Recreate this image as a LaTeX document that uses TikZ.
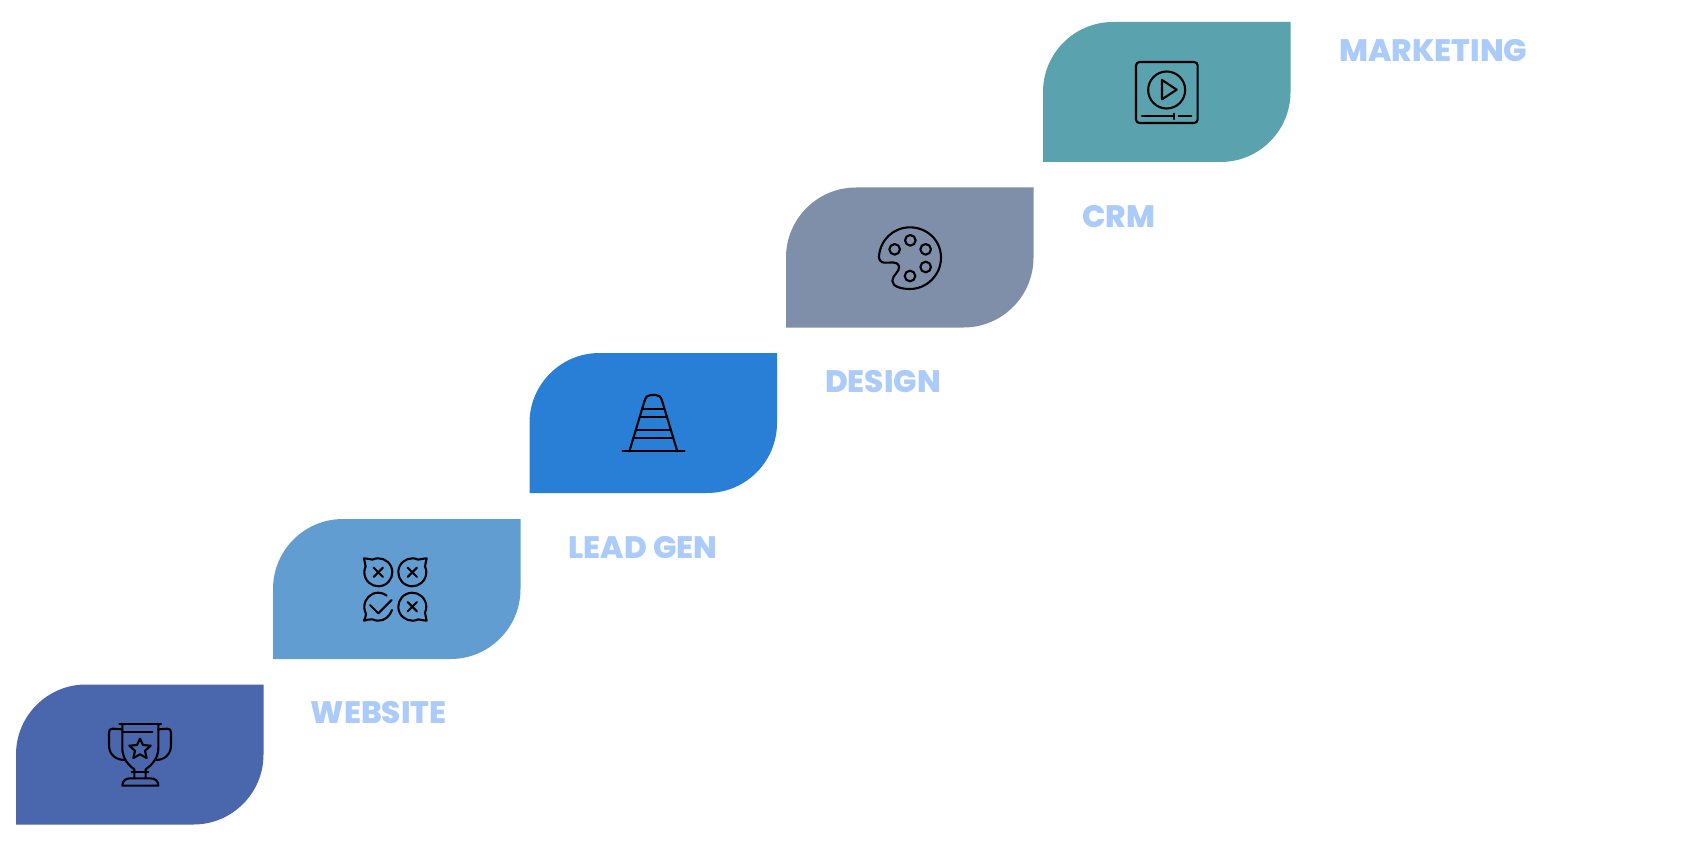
\documentclass[tikz,border=0pt]{standalone}
\usepackage{fontspec}
\setmainfont{Poppins}[BoldFont={Poppins ExtraBold}]
\definecolor{leafA}{HTML}{4A66AC}
\definecolor{leafB}{HTML}{629DD1}
\definecolor{leafC}{HTML}{297FD5}
\definecolor{leafD}{HTML}{7F8FA9}
\definecolor{leafE}{HTML}{5AA2AE}
\definecolor{caption}{HTML}{ABCBFA}
\tikzset{
  leaf/.pic={
    \fill[pic actions] (0,140) -- (0,70) arc[start angle=180,end angle=90,radius=70pt]
      -- (247.5,0) -- (247.5,70) arc[start angle=0,end angle=-90,radius=70pt] -- cycle;
  },
  caption label/.style={text=caption,font=\bfseries\fontsize{31}{31}\selectfont,inner sep=0pt,anchor=center},
  glyph/.style={draw=black,line width=2.1pt,line cap=round,line join=round},
  % icon interiors are plotted on a 3:1 grid
  grid/.style={x=0.33333pt,y=-0.33333pt},
  % speech bubble with its tail at the upper left; mirrored with xscale/yscale
  bubble/.pic={
    \draw[glyph,x=1pt,y=1pt] (-5.9,12.7) arc[start angle=115,end angle=-205,radius=14pt]
      .. controls (-13.6,9.5) and (-13.6,12) .. (-14.4,14)
      .. controls (-12,13.6) and (-8.5,13.4) .. cycle;
  },
  cross/.pic={
    \draw[glyph,x=1pt,y=1pt] (-4.6,-4.6) -- (4.6,4.6) (-4.6,4.6) -- (4.6,-4.6);
  }
}
\begin{document}
\begin{tikzpicture}[x=1pt,y=-1pt]
\useasboundingbox (0,0) rectangle (1698,848);
\fill[white] (0,0) rectangle (1698,848);

% stair of leaf panels
\pic[fill=leafA] (leaf1) at (16,684.5) {leaf};
\pic[fill=leafB] (leaf2) at (273,519) {leaf};
\pic[fill=leafC] (leaf3) at (529.5,353) {leaf};
\pic[fill=leafD] (leaf4) at (786,187.5) {leaf};
\pic[fill=leafE] (leaf5) at (1043,22) {leaf};

% captions
\node[caption label] (website) at (378.5,713) {WEBSITE};
\node[caption label] (leadgen) at (643,548) {LEAD GEN};
\node[caption label] (design) at (883,382) {DESIGN};
\node[caption label] (crm) at (1118.5,217) {CRM};
\node[caption label] (marketing) at (1433.5,51) {MARKETING};

% trophy
\begin{scope}[shift={(90,710)},grid]
  \draw[glyph] (88,42) -- (213,42);
  \draw[glyph] (97,65) -- (187,65);
  \draw[glyph] (97,42) -- (97,115) .. controls (97,145) and (115,165) .. (133,178)
     -- (133,205) (167,205) -- (167,178) .. controls (185,165) and (205,145) .. (205,115) -- (205,42);
  \draw[glyph] (97,58) -- (68,56) .. controls (60,56) and (57,60) .. (57,68) -- (57,105)
     .. controls (57,132) and (75,150) .. (105,150);
  \draw[glyph] (205,58) -- (232,56) .. controls (240,56) and (243,60) .. (243,68) -- (243,105)
     .. controls (243,132) and (225,150) .. (197,150);
  \draw[glyph] (125,187) -- (175,187);
  \draw[glyph] (97,227) .. controls (97,212) and (108,205) .. (120,205) -- (180,205)
     .. controls (195,205) and (205,212) .. (205,227) -- cycle;
  \draw[glyph] (150,86) -- (159,105) -- (182,107) -- (165,122) -- (170,144) -- (150,133)
     -- (130,144) -- (135,122) -- (118,107) -- (141,105) -- cycle;
\end{scope}

% approval bubbles
\pic at (378.3,572.3) {bubble};
\pic at (378.3,572.3) {cross};
\pic[xscale=-1] at (412.3,572.3) {bubble};
\pic at (412.3,572.3) {cross};
\pic[yscale=-1,xscale=-1] at (412.3,606.7) {bubble};
\pic at (412.3,606.7) {cross};
\begin{scope}[shift={(340,540)},grid]
  \draw[glyph] (140,167) .. controls (130,160) and (122,158) .. (115,158)
     .. controls (92,158) and (73,177) .. (73,200) .. controls (73,212) and (77,218) .. (78,222)
     .. controls (77,230) and (75,236) .. (72,242) .. controls (80,240) and (90,237) .. (97,238)
     .. controls (103,241) and (110,242) .. (115,242) .. controls (135,242) and (150,228) .. (156,210);
  \draw[glyph] (90,195) -- (115,220) -- (155,180);
\end{scope}

% traffic cone
\begin{scope}[shift={(600,380)},grid]
  \draw[glyph] (67,214) -- (254,214);
  \draw[glyph] (88,214) -- (133,65) .. controls (137,50) and (143,45) .. (152,45) -- (168,45)
     .. controls (177,45) and (183,50) .. (187,65) -- (232,214);
  \draw[glyph] (128,87) -- (192,87) (121,110) -- (199,110) (109,151) -- (211,151) (102,173) -- (218,173);
\end{scope}

% paint palette
\begin{scope}[shift={(860,215)},grid]
  \draw[glyph] (57,125) .. controls (60,75) and (100,37) .. (150,37)
     .. controls (200,37) and (243,75) .. (243,128)
     .. controls (243,180) and (200,222) .. (150,222)
     .. controls (125,222) and (97,215) .. (97,198)
     .. controls (97,180) and (120,170) .. (117,155)
     .. controls (113,135) and (85,145) .. (72,143)
     .. controls (62,141) and (57,135) .. cycle;
  \foreach \hx/\hy in {151/76,104/103,197/103,197/156,150/183}
    \draw[glyph] (\hx,\hy) circle[radius=5.3pt];
\end{scope}

% video player
\begin{scope}[shift={(1120,50)},grid]
  \draw[glyph,rounded corners=3.5pt] (48,36) rectangle (233,219);
  \draw[glyph] (140,120) circle[radius=18.5pt];
  \draw[glyph] (126,90) -- (126,148) -- (170,119) -- cycle;
  \draw[glyph] (66,199) -- (162,199) (162,191) -- (162,207) (176,199) -- (214,199);
\end{scope}
\end{tikzpicture}
\end{document}
